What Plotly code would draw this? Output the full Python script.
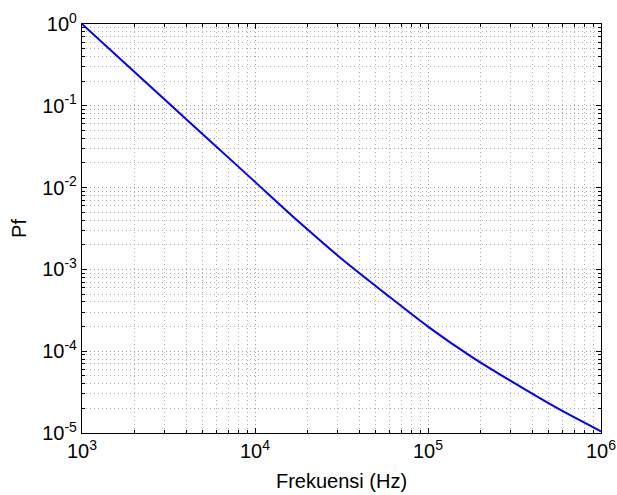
import plotly.graph_objects as go

# Data (log-log)
freq_hz = [1000, 1778, 3162, 5623, 10000, 17783, 31623, 56234,
           100000, 177828, 316228, 562341, 1000000]
pf = [1.0, 0.329, 0.108, 0.0357, 0.01175, 0.00387, 0.00135, 5.13e-4,
      2.0e-4, 8.6e-5, 4.07e-5, 2.0e-5, 1.05e-5]

x_tickvals = [1e3, 1e4, 1e5, 1e6]
x_ticktext = ["10<sup>3</sup>", "10<sup>4</sup>", "10<sup>5</sup>", "10<sup>6</sup>"]
y_tickvals = [1e-5, 1e-4, 1e-3, 1e-2, 1e-1, 1e0]
y_ticktext = ["10<sup>-5</sup>", "10<sup>-4</sup>", "10<sup>-3</sup>",
              "10<sup>-2</sup>", "10<sup>-1</sup>", "10<sup>0</sup>"]
minor_mult = [2, 3, 4, 5, 6, 7, 8, 9]

x_minor = [m * d for d in x_tickvals[:-1] for m in minor_mult]
y_minor = [m * d for d in y_tickvals[:-1] for m in minor_mult]

FONT = "Liberation Sans, Arial, sans-serif"
DOTS = "1px,3px"

fig = go.Figure()
fig.add_trace(go.Scatter(x=freq_hz, y=pf, mode="lines",
                         line=dict(color="#0000ff", width=2, shape="spline", smoothing=0.8),
                         showlegend=False))


def axis_common(minor_vals):
    return dict(
        showline=True, linecolor="black", linewidth=1.2, mirror="ticks",
        ticks="inside", ticklen=5, tickcolor="black",
        showgrid=True, gridcolor="#9a9a9a", gridwidth=1, griddash=DOTS,
        zeroline=False, automargin=False,
        tickfont=dict(family=FONT, size=20, color="black"),
        minor=dict(tickmode="array", tickvals=minor_vals,
                   ticks="inside", ticklen=3, tickcolor="black",
                   showgrid=True, gridcolor="#adadad", gridwidth=1, griddash=DOTS),
    )


fig.update_xaxes(type="log", range=[3, 6], tickmode="array",
                 tickvals=x_tickvals, ticktext=x_ticktext,
                 title=dict(text="Frekuensi (Hz)",
                            font=dict(family=FONT, size=20, color="black"),
                            standoff=12),
                 **axis_common(x_minor))
fig.update_yaxes(type="log", range=[-5, 0], tickmode="array",
                 tickvals=y_tickvals, ticktext=y_ticktext,
                 title=dict(text="Pf", font=dict(family=FONT, size=20, color="black"),
                            standoff=10),
                 **axis_common(y_minor))

fig.update_layout(
    width=617, height=495,
    margin=dict(l=82, r=16, t=24, b=62),
    paper_bgcolor="white", plot_bgcolor="white",
    font=dict(family=FONT, color="black"),
)

fig.write_html("out.html")
